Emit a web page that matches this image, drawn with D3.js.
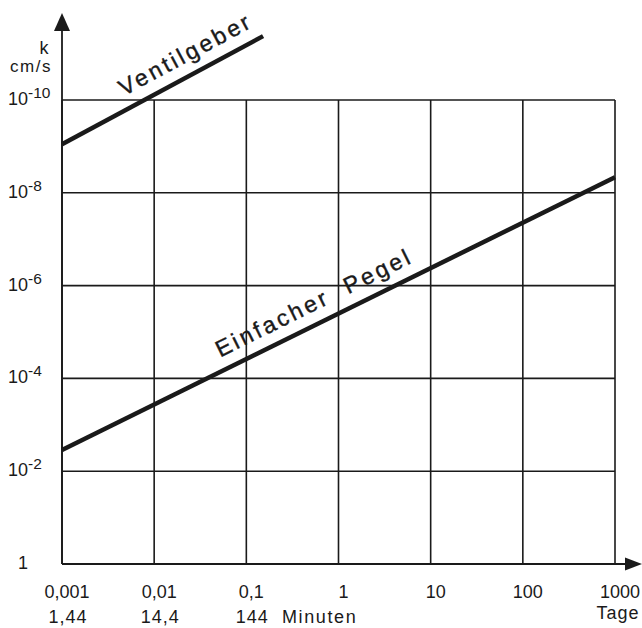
<!DOCTYPE html>
<html>
<head>
<meta charset="utf-8">
<script src="https://cdn.jsdelivr.net/npm/d3@7"></script>
<style>
  body { margin: 0; background: #fff; }
  svg { display: block; font-family: "Liberation Sans", Arial, sans-serif; }
  text { fill: #1a1a1a; }
</style>
</head>
<body>
<svg id="chart" width="642" height="628"></svg>
<script>
// x: time in days (second row: same ticks in minutes)
const dayTicks = [0.001, 0.01, 0.1, 1, 10, 100, 1000];
const dayLabels = ["0,001", "0,01", "0,1", "1", "10", "100", "1000"];
const minuteTicks = [0.001, 0.01, 0.1];
const minuteLabels = ["1,44", "14,4", "144"];

// y: permeability k in cm/s (log, smallest value on top)
const kTicks = [1e-10, 1e-8, 1e-6, 1e-4, 1e-2, 1];
const kExponents = ["-10", "-8", "-6", "-4", "-2", null];

// the two lines
const ventilgeber = [
  { t: 0.001, k: 9e-10 },
  { t: 0.152, k: 4.2e-12 }
];
const einfacherPegel = [
  { t: 0.001, k: 3.5e-3 },
  { t: 1000, k: 4.6e-9 }
];

const svg = d3.select("#chart");
const ink = "#1a1a1a";

const x = d3.scaleLog().domain([0.001, 1000]).range([62, 615]);
const y = d3.scaleLog().domain([1e-10, 1]).range([100, 564]);

// grid
svg.append("g").attr("class", "grid-x")
  .selectAll("line").data(dayTicks).join("line")
  .attr("x1", d => x(d)).attr("x2", d => x(d))
  .attr("y1", y(1e-10)).attr("y2", y(1))
  .attr("stroke", ink).attr("stroke-width", 1.6);

svg.append("g").attr("class", "grid-y")
  .selectAll("line").data(kTicks).join("line")
  .attr("x1", x(0.001)).attr("x2", x(1000))
  .attr("y1", d => y(d)).attr("y2", d => y(d))
  .attr("stroke", ink).attr("stroke-width", 1.6);

// axes with arrows
const x0 = x(0.001), y0 = y(1);
svg.append("line")
  .attr("x1", x0).attr("x2", x0).attr("y1", y0).attr("y2", 28)
  .attr("stroke", ink).attr("stroke-width", 1.8);
svg.append("path")
  .attr("d", `M${x0},13 L${x0 - 8},31 L${x0 + 8},31 Z`)
  .attr("fill", ink);
svg.append("line")
  .attr("x1", x0).attr("x2", 630).attr("y1", y0).attr("y2", y0)
  .attr("stroke", ink).attr("stroke-width", 1.8);
svg.append("path")
  .attr("d", `M642,${y0} L625,${y0 - 6.5} L625,${y0 + 6.5} Z`)
  .attr("fill", ink);

// y tick labels
const yl = svg.append("g").attr("class", "y-labels")
  .selectAll("text").data(kTicks).join("text")
  .attr("x", (d, i) => kExponents[i] ? 8 : 18)
  .attr("y", d => y(d) + 5)
  .attr("font-size", 18);
yl.each(function (d, i) {
  const t = d3.select(this);
  if (kExponents[i]) {
    t.append("tspan").text("10");
    t.append("tspan").attr("dy", -7).attr("font-size", 15.5).text(kExponents[i]);
  } else {
    t.text("1");
  }
});

svg.append("text").attr("x", 44).attr("y", 54)
  .attr("text-anchor", "middle").attr("font-size", 18).text("k");
svg.append("text").attr("x", 31).attr("y", 72)
  .attr("text-anchor", "middle").attr("font-size", 17)
  .attr("letter-spacing", 1.5).text("cm/s");

// x tick labels
svg.append("g").attr("class", "x-labels")
  .selectAll("text").data(dayTicks).join("text")
  .attr("x", d => x(d) + 5)
  .attr("y", 598)
  .attr("text-anchor", "middle")
  .attr("font-size", 18)
  .text((d, i) => dayLabels[i]);

svg.append("g").attr("class", "x-labels-min")
  .selectAll("text").data(minuteTicks).join("text")
  .attr("x", d => x(d) + 6)
  .attr("y", 623)
  .attr("text-anchor", "middle")
  .attr("font-size", 18)
  .attr("letter-spacing", 1)
  .text((d, i) => minuteLabels[i]);

svg.append("text").attr("x", 282).attr("y", 623)
  .attr("font-size", 18).attr("letter-spacing", 1.6).text("Minuten");
svg.append("text").attr("x", 618).attr("y", 619)
  .attr("text-anchor", "middle").attr("font-size", 18)
  .attr("letter-spacing", 1).text("Tage");

// the lines
const line = d3.line().x(d => x(d.t)).y(d => y(d.k));
[ventilgeber, einfacherPegel].forEach(s => {
  svg.append("path").datum(s)
    .attr("d", line)
    .attr("fill", "none")
    .attr("stroke", ink)
    .attr("stroke-width", 4.5)
    .attr("stroke-linecap", "butt");
});

// labels set along the lines
function labelAlong(s, t, txt, offset) {
  const a = s[0], b = s[s.length - 1];
  const f = (Math.log10(t) - Math.log10(a.t)) / (Math.log10(b.t) - Math.log10(a.t));
  const k = Math.pow(10, Math.log10(a.k) + f * (Math.log10(b.k) - Math.log10(a.k)));
  const ang = Math.atan2(y(b.k) - y(a.k), x(b.t) - x(a.t)) * 180 / Math.PI;
  svg.append("text")
    .attr("transform", `translate(${x(t)},${y(k)}) rotate(${ang})`)
    .attr("y", -offset)
    .attr("font-size", 23)
    .attr("letter-spacing", 3)
    .attr("stroke", ink)
    .attr("stroke-width", 0.4)
    .style("white-space", "pre")
    .text(txt);
}
labelAlong(ventilgeber, 0.0055, "Ventilgeber", 13);
labelAlong(einfacherPegel, 0.06, "Einfacher  Pegel", 13);
</script>
</body>
</html>
